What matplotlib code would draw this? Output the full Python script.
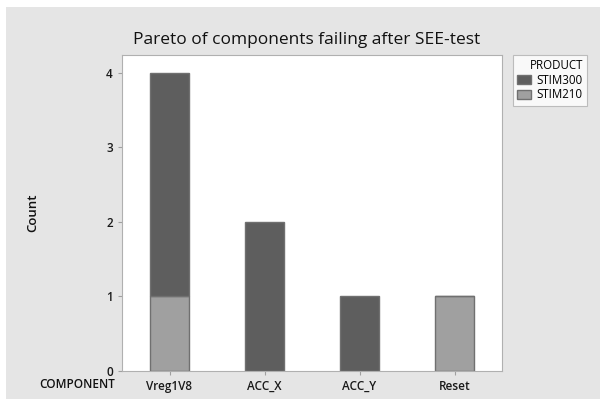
import matplotlib
matplotlib.use("Agg")
import matplotlib.pyplot as plt
from matplotlib.patches import Rectangle, Patch

components = ["Vreg1V8", "ACC_X", "ACC_Y", "Reset"]
stim210 = [1, 0, 0, 1]
stim300 = [3, 2, 1, 0]
yticks = [0, 1, 2, 3, 4]

DARK = "#5e5e5e"
LIGHT = "#a0a0a0"
EDGE = "#707070"
BG = "#e5e5e5"

plt.rcParams.update({"font.family": ["Open Sans", "DejaVu Sans"], "font.size": 8})

W, H = 600, 403
fig = plt.figure(figsize=(6.0, 4.03), dpi=100, facecolor="white")
fig.patches.append(Rectangle((6 / W, 4 / H), 1 - 6 / W, 1 - 11 / H,
                             transform=fig.transFigure, facecolor=BG,
                             edgecolor="none", zorder=-10))

ax = fig.add_axes([122 / W, (H - 371) / H, 380 / W, (371 - 55) / H])
ax.set_facecolor("white")
x = range(len(components))
ax.bar(x, stim210, width=0.41, color=LIGHT, edgecolor=EDGE, linewidth=1.0)
ax.bar(x, stim300, width=0.41, bottom=stim210, color=DARK, edgecolor=EDGE, linewidth=1.0)
ax.set_xlim(-0.5, 3.5)
ax.set_ylim(0, 4.24)
ax.set_yticks(yticks)
ax.set_xticks(list(x))
ax.set_xticklabels(components)
ax.tick_params(axis="both", colors="#a0a0a0", labelcolor="#1a1a1a", length=3,
               width=0.8, labelsize=8.5)
for lbl in ax.get_xticklabels() + ax.get_yticklabels():
    lbl.set_fontweight("semibold")
for sp in ax.spines.values():
    sp.set_edgecolor("#b0b0b0")

fig.text(307 / W, 1 - 40 / H, "Pareto of components failing after SEE-test",
         ha="center", va="center", fontsize=12.5, color="#111111", fontweight="medium")
fig.text(33 / W, 1 - 213 / H, "Count", rotation=90, ha="center", va="center",
         fontsize=9.5, color="#111111", fontweight="semibold")
fig.text(77 / W, 1 - 384 / H, "COMPONENT", ha="center", va="center",
         fontsize=8.5, color="#111111", fontweight="semibold")

handles = [Patch(facecolor=DARK, edgecolor=EDGE, label="STIM300"),
           Patch(facecolor=LIGHT, edgecolor=EDGE, label="STIM210")]
leg = fig.legend(handles=handles, title="PRODUCT", loc="upper left",
                 bbox_to_anchor=(513 / W, 1 - 55 / H), fontsize=8.3,
                 title_fontsize=8.3, frameon=True, fancybox=False,
                 handlelength=1.2, handleheight=0.8, handletextpad=0.5,
                 borderpad=0.35, labelspacing=0.15, borderaxespad=0)
leg.get_frame().set_edgecolor("#b0b0b0")
leg.get_frame().set_linewidth(0.8)
leg._legend_box.align = "right"

fig.savefig("out.png", dpi=100, facecolor="white")
